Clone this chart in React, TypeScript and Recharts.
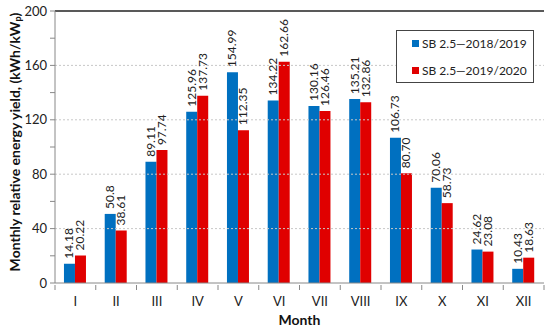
import {
  Bar,
  BarChart,
  LabelList,
  ReferenceLine,
  XAxis,
  YAxis,
} from "recharts";

const months = ["I", "II", "III", "IV", "V", "VI", "VII", "VIII", "IX", "X", "XI", "XII"];
const yield2018 = ["14.18", "50.8", "89.11", "125.96", "154.99", "134.22", "130.16", "135.21", "106.73", "70.06", "24.62", "10.43"];
const yield2019 = ["20.22", "38.61", "97.74", "137.73", "112.35", "162.66", "126.46", "132.86", "80.70", "58.73", "23.08", "18.63"];
const yTicks = [0, 20, 40, 60, 80, 100, 120, 140, 160, 180, 200];
const gridLines = [40, 80, 120, 160];

const BLUE = "#0070C0";
const RED = "#E00000";
const FONT = "Lato, 'Open Sans', sans-serif";

const W = 550;
const H = 330;
const LEFT = 55;
const RIGHT = 6;
const BAND = (W - LEFT - RIGHT) / months.length;

const data = months.map((m, i) => ({
  month: m,
  a: Number(yield2018[i]),
  b: Number(yield2019[i]),
  la: yield2018[i],
  lb: yield2019[i],
}));

function BarLabel(props: any) {
  const { x, y, width, value } = props;
  const cx = x + width / 2 + 4;
  const cy = y - 5;
  return (
    <text
      x={cx}
      y={cy}
      transform={`rotate(-90, ${cx}, ${cy})`}
      textAnchor="start"
      fontSize={12}
      fontFamily={FONT}
      fill="#222"
    >
      {value}
    </text>
  );
}

function YTick(props: any) {
  const { x, y, payload } = props;
  if (payload.value % 40 !== 0) return null;
  return (
    <text x={x - 1} y={y + 4.5} textAnchor="end" fontSize={13} fontFamily={FONT} fill="#222">
      {payload.value}
    </text>
  );
}

function XTick(props: any) {
  const { x, y, payload, index } = props;
  const left = x - BAND / 2;
  return (
    <g>
      <line x1={left} x2={left} y1={y} y2={y + 5} stroke="#888" />
      {index === months.length - 1 && (
        <line x1={x + BAND / 2} x2={x + BAND / 2} y1={y} y2={y + 5} stroke="#888" />
      )}
      <text x={x} y={y + 21} textAnchor="middle" fontSize={13} fontFamily={FONT} fill="#222">
        {payload.value}
      </text>
    </g>
  );
}

function YLabel() {
  const cx = 14;
  const cy = 142;
  return (
    <text
      x={cx}
      y={cy}
      transform={`rotate(-90, ${cx}, ${cy})`}
      textAnchor="middle"
      dominantBaseline="central"
      fontSize={14}
      fontWeight="bold"
      fontFamily={FONT}
      fill="#111"
    >
      Monthly relative energy yield, (kWh/kW
      <tspan fontSize={9} dy={3}>p</tspan>
      <tspan dy={-3}>)</tspan>
    </text>
  );
}

function LegendBox() {
  const items = [
    { color: BLUE, label: "SB 2.5\u20142018/2019" },
    { color: RED, label: "SB 2.5\u20142019/2020" },
  ];
  return (
    <div
      style={{
        position: "absolute",
        left: 396,
        top: 30,
        width: 138,
        height: 53,
        border: "1px solid #444",
        background: "#fff",
        fontFamily: FONT,
        fontSize: 12,
        color: "#222",
        boxSizing: "border-box",
      }}
    >
      {items.map((it, i) => (
        <div
          key={i}
          style={{
            position: "absolute",
            left: 15,
            top: 5 + i * 27,
            display: "flex",
            alignItems: "center",
            whiteSpace: "nowrap",
          }}
        >
          <span style={{ width: 7, height: 7, background: it.color, marginRight: 3 }} />
          {it.label}
        </div>
      ))}
    </div>
  );
}

export default function App() {
  return (
    <div style={{ position: "relative", width: W, height: H, background: "#fff" }}>
      <style>{`body{margin:0}`}</style>
      <BarChart
        width={W}
        height={H}
        data={data}
        margin={{ top: 11, right: RIGHT, bottom: 0, left: 0 }}
        barCategoryGap="22%"
        barGap={0}
      >
        {gridLines.map((v) => (
          <ReferenceLine key={v} y={v} stroke="#c8c8c8" strokeDasharray="2 2" />
        ))}
        <ReferenceLine y={200} stroke="#222" strokeWidth={1.5} />
        <XAxis
          dataKey="month"
          height={47}
          axisLine={{ stroke: "#888" }}
          tickLine={false}
          tickSize={0}
          tick={<XTick />}
          interval={0}
          label={{
            value: "Month",
            position: "insideBottom",
            offset: 5,
            fontSize: 14,
            fontWeight: "bold",
            fontFamily: FONT,
            fill: "#111",
          }}
        />
        <YAxis
          width={LEFT}
          domain={[0, 200]}
          ticks={yTicks}
          interval={0}
          axisLine={{ stroke: "#888" }}
          tickLine={{ stroke: "#888" }}
          tickSize={5}
          tick={<YTick />}
          label={<YLabel />}
        />
        <YAxis
          yAxisId="right"
          orientation="right"
          width={0}
          tick={false}
          tickLine={false}
          axisLine={{ stroke: "#555", strokeWidth: 1.5 }}
        />
        <Bar dataKey="a" fill={BLUE} isAnimationActive={false}>
          <LabelList dataKey="la" content={<BarLabel />} />
        </Bar>
        <Bar dataKey="b" fill={RED} isAnimationActive={false}>
          <LabelList dataKey="lb" content={<BarLabel />} />
        </Bar>
      </BarChart>
      <LegendBox />
    </div>
  );
}
